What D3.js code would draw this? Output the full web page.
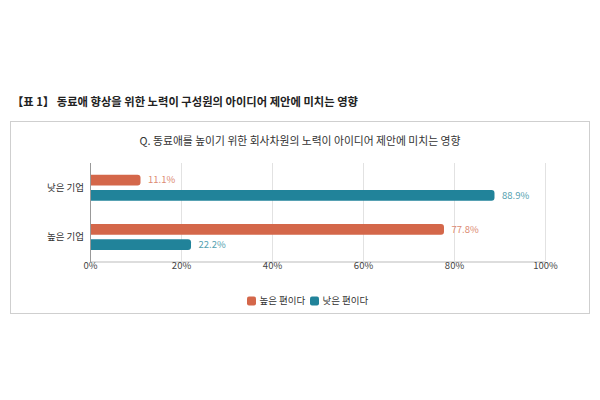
<!DOCTYPE html>
<html><head><meta charset="utf-8">
<script src="https://cdn.jsdelivr.net/npm/d3@7"></script>
<style>
body{margin:0;background:#fff;font-family:"Noto Sans CJK KR","Noto Sans",sans-serif;}
</style></head>
<body><svg id="c" width="600" height="400"></svg>
<script>
const categories = ["낮은 기업", "높은 기업"];
const seriesNames = ["높은 편이다", "낮은 편이다"];
const highValues = [11.1, 77.8];
const lowValues = [88.9, 22.2];
const tickValues = [0, 20, 40, 60, 80, 100];
const colors = ["#d4674a", "#21839a"];
const labelColors = ["#dc8a72", "#559fb0"];

const svg = d3.select("#c");
const font = '"Noto Sans CJK KR","Noto Sans",sans-serif';

svg.append("text").attr("x", 12).attr("y", 105.5)
  .attr("font-family", font).attr("font-size", 11.3).attr("font-weight", 700).attr("fill", "#222")
  .text("【표 1】 동료애 향상을 위한 노력이 구성원의 아이디어 제안에 미치는 영향");

svg.append("rect").attr("x", 10.5).attr("y", 121.5).attr("width", 579).attr("height", 192)
  .attr("fill", "none").attr("stroke", "#cfcfcf").attr("stroke-width", 1);

svg.append("text").attr("x", 300).attr("y", 144.5).attr("text-anchor", "middle")
  .attr("font-family", font).attr("font-size", 10.8).attr("fill", "#333")
  .text("Q. 동료애를 높이기 위한 회사차원의 노력이 아이디어 제안에 미치는 영향");

const x = d3.scaleLinear().domain([0, 100]).range([90, 545]);
const y = d3.scaleBand().domain(categories).range([163, 261.5]);
const ySub = d3.scaleBand().domain([0, 1]).range([11.7, 37.7]).paddingInner(0.3);

// gridlines
svg.append("g").selectAll("line").data(tickValues.slice(1)).join("line")
  .attr("x1", d => x(d) + 0.5).attr("x2", d => x(d) + 0.5)
  .attr("y1", 163).attr("y2", 261)
  .attr("stroke", "#e2e2e2").attr("stroke-width", 1);

// x axis
const xAxis = svg.append("g").attr("transform", "translate(0,261.5)")
  .call(d3.axisBottom(x).tickValues(tickValues).tickFormat(d => d + "%").tickSize(0).tickPadding(1));
xAxis.select(".domain").attr("stroke", "#bbb");
xAxis.selectAll("text").attr("font-family", font).attr("font-size", 9.5).attr("fill", "#444");

// y axis line
svg.append("line").attr("x1", 90.5).attr("x2", 90.5).attr("y1", 163).attr("y2", 262)
  .attr("stroke", "#999").attr("stroke-width", 1);

// y labels
svg.append("g").selectAll("text").data(categories).join("text")
  .attr("x", 84).attr("y", d => y(d) + y.bandwidth() / 2)
  .attr("dy", "0.35em").attr("text-anchor", "end")
  .attr("font-family", font).attr("font-size", 9.5).attr("fill", "#333")
  .text(d => d);

const series = [highValues, lowValues];
series.forEach((vals, si) => {
  const g = svg.append("g");
  const data = categories.map((c, i) => ({c, v: vals[i]}));
  g.selectAll("path").data(data).join("path")
    .attr("d", d => {
      const x0 = x(0) + 1, x1 = x(d.v), y0 = y(d.c) + ySub(si), h = ySub.bandwidth(), r = 3;
      return `M${x0},${y0}H${x1 - r}Q${x1},${y0} ${x1},${y0 + r}V${y0 + h - r}Q${x1},${y0 + h} ${x1 - r},${y0 + h}H${x0}Z`;
    })
    .attr("fill", colors[si]);
  g.selectAll("text").data(data).join("text")
    .attr("x", d => x(d.v) + 7.5).attr("y", d => y(d.c) + ySub(si) + ySub.bandwidth() / 2)
    .attr("dy", "0.35em").attr("font-family", font).attr("font-size", 9.5)
    .attr("fill", labelColors[si]).text(d => d.v.toFixed(1) + "%");
});

// legend
const legendX = [247, 310];
const lg = svg.append("g");
seriesNames.forEach((n, i) => {
  lg.append("rect").attr("x", legendX[i]).attr("y", 296.5).attr("width", 9).attr("height", 9).attr("rx", 2)
    .attr("fill", colors[i]);
  lg.append("text").attr("x", legendX[i] + 12.5).attr("y", 301).attr("dy", "0.35em")
    .attr("font-family", font).attr("font-size", 9.5).attr("fill", "#333").text(n);
});
</script></body></html>
